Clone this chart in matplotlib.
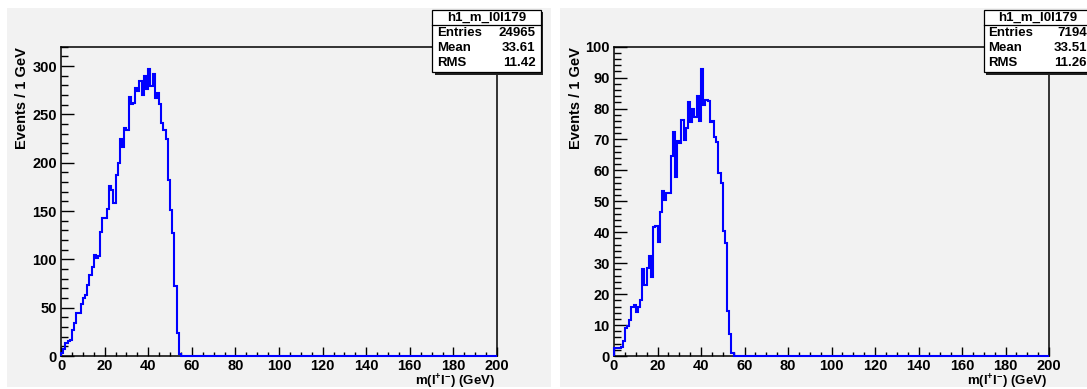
#!/usr/bin/env python3
"""Two ROOT-style dilepton mass histograms, side by side."""

import numpy as np
import matplotlib.pyplot as plt
from matplotlib.patches import Rectangle
from matplotlib.lines import Line2D
from matplotlib.ticker import MultipleLocator

plt.rcParams['font.family'] = ['Liberation Sans', 'DejaVu Sans']
plt.rcParams['font.weight'] = 'bold'
plt.rcParams['axes.labelweight'] = 'bold'
plt.rcParams['mathtext.fontset'] = 'custom'
plt.rcParams['mathtext.rm'] = 'Liberation Sans:bold'
plt.rcParams['mathtext.default'] = 'rm'

# 1 GeV bins from 0 to 200; only the first 55 bins are filled
bin_edges = np.arange(0, 201, 1)

left_peak = [3, 7, 13, 16, 17, 27, 34, 44, 45, 54,
             60, 63, 73, 84, 92, 105, 101, 103, 128, 143,
             143, 152, 176, 172, 158, 187, 200, 224, 216, 236,
             234, 268, 261, 262, 277, 274, 285, 270, 290, 276,
             297, 279, 292, 267, 272, 261, 241, 234, 224, 182,
             151, 127, 72, 24, 2]
right_peak = [2.5, 2.7, 2.5, 3, 5, 9, 9.7, 11.8, 16, 16.4,
              14.3, 16, 18, 28, 23, 28.3, 32.4, 25.4, 41.8, 42,
              37, 46.4, 53.4, 50.4, 52.8, 52.8, 64.6, 72.5, 58, 69.5,
              68.8, 76.3, 69.8, 73.8, 82, 75.6, 79.7, 77.4, 84, 76,
              92.7, 81.1, 82.8, 82.5, 75.8, 76, 70.9, 69.3, 59.3, 55.8,
              40.5, 36.6, 14.5, 7, 1]

left_counts = np.concatenate([left_peak, np.zeros(200 - len(left_peak))])
right_counts = np.concatenate([right_peak, np.zeros(200 - len(right_peak))])

hist_name = 'h1_m_l0l179'
left_stats = ('24965', '33.61', '11.42')
right_stats = ('7194', '33.51', '11.26')

W, H = 1087, 389
PAD_GRAY = '#f2f2f2'
AX_TOP, AX_BOTTOM = 46.7, 356


def fx(px):
    return px / W


def fy(py):
    return 1 - py / H


def add_pad(fig, x0, x1):
    fig.add_artist(Rectangle((fx(x0), fy(387)), fx(x1) - fx(x0), fy(8) - fy(387),
                             transform=fig.transFigure, fc=PAD_GRAY, ec='none',
                             zorder=-10))


def add_stat_box(fig, x0, stats):
    top, bottom, sep, w = 10, 72, 25, 108.5
    tr = fig.transFigure
    fig.add_artist(Rectangle((fx(x0 + 2.5), fy(bottom + 2.5)), fx(w), fy(top) - fy(bottom),
                             transform=tr, fc='#222222', ec='none', zorder=5))
    fig.add_artist(Rectangle((fx(x0), fy(bottom)), fx(w), fy(top) - fy(bottom),
                             transform=tr, fc='white', ec='black', lw=0.9, zorder=6))
    fig.add_artist(Line2D([fx(x0), fx(x0 + w)], [fy(sep), fy(sep)],
                          transform=tr, color='black', lw=0.9, zorder=7))
    fig.text(fx(x0 + w / 2), fy(17.5), hist_name, ha='center', va='center',
             fontsize=9.5, zorder=8)
    for name, val, yc in zip(('Entries', 'Mean', 'RMS'), stats, (32.5, 48, 63)):
        fig.text(fx(x0 + 5), fy(yc), name, ha='left', va='center', fontsize=9.5, zorder=8)
        fig.text(fx(x0 + w - 5), fy(yc), val, ha='right', va='center', fontsize=9.5, zorder=8)


def draw_hist(fig, left_px, right_px, counts, ymax, ymajor, yminor):
    ax = fig.add_axes([fx(left_px), fy(AX_BOTTOM), fx(right_px) - fx(left_px),
                       fy(AX_TOP) - fy(AX_BOTTOM)])
    ax.set_facecolor('none')
    ax.stairs(counts, bin_edges, color='#0000ff', lw=1.5, clip_on=False, zorder=3)
    ax.set_xlim(0, 200)
    ax.set_ylim(0, ymax)
    ax.xaxis.set_major_locator(MultipleLocator(20))
    ax.xaxis.set_minor_locator(MultipleLocator(5))
    ax.yaxis.set_major_locator(MultipleLocator(ymajor))
    ax.yaxis.set_minor_locator(MultipleLocator(yminor))
    ax.tick_params(axis='both', which='both', direction='in', width=1.0,
                   labelsize=10.5, pad=3)
    ax.tick_params(axis='x', which='major', length=6.3, pad=2)
    ax.tick_params(axis='y', which='major', length=9.4)
    ax.tick_params(axis='y', which='minor', length=4.7)
    ax.tick_params(axis='x', which='minor', length=3.2)
    for s in ax.spines.values():
        s.set_linewidth(1.1)
    ax.set_xlabel(r'm(l$^{+}$l$^{-}$) (GeV)', fontsize=9.5, ha='right', va='baseline')
    ax.xaxis.set_label_coords(0.995, -29.5 / (AX_BOTTOM - AX_TOP))
    ax.set_ylabel('Events / 1 GeV', loc='top', fontsize=10.5, labelpad=2)
    return ax


fig = plt.figure(figsize=(W / 100, H / 100), dpi=100)
fig.patch.set_facecolor('white')

add_pad(fig, 7, 551)
add_pad(fig, 560, 1087)

draw_hist(fig, 61, 497, left_counts, 320, 50, 10)
draw_hist(fig, 614, 1049, right_counts, 100, 10, 2)

add_stat_box(fig, 432, left_stats)
add_stat_box(fig, 983.5, right_stats)

fig.savefig('out.png', dpi=100)
